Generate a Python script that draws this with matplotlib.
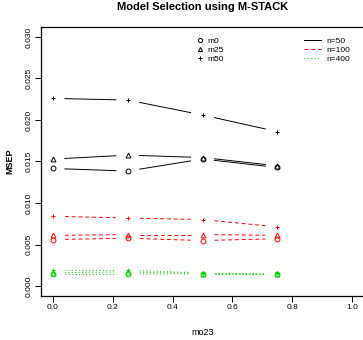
import numpy as np
import matplotlib

matplotlib.use('Agg')
import matplotlib.pyplot as plt
from matplotlib.lines import Line2D

plt.rcParams['font.family'] = ['Liberation Sans', 'DejaVu Sans']

# --- 데이터 ---
mo23 = [0.0, 0.25, 0.5, 0.75]
models = ['m0', 'm25', 'm50']
sizes = ['n=50', 'n=100', 'n=400']

msep_n50 = {
    'm0': [0.01416, 0.01385, 0.0153, 0.01428],
    'm25': [0.01529, 0.01577, 0.01548, 0.01448],
    'm50': [0.0226, 0.0224, 0.0206, 0.0186],
}
msep_n100 = {
    'm0': [0.0056, 0.00576, 0.00548, 0.0057],
    'm25': [0.0061, 0.0062, 0.0062, 0.0061],
    'm50': [0.0084, 0.0082, 0.0080, 0.00713],
}
msep_n400 = {
    'm0': [0.0014, 0.0014, 0.0015, 0.0014],
    'm25': [0.0016, 0.0017, 0.0015, 0.0015],
    'm50': [0.0019, 0.0019, 0.0016, 0.0016],
}

COLORS = ['black', '#FF0000', '#00CD00']
LSTYLES = ['-', (0, (4, 3)), (0, (1, 2.5))]
MARKERS = {'m0': 'o', 'm25': '^', 'm50': '+'}
LW = 0.7


def plot_b(ax, x, y, color, ls, marker, gap=0.04):
    # R type="b": 점 주변을 비우고 선분만 그림
    x = np.asarray(x, float)
    y = np.asarray(y, float)
    for i in range(len(x) - 1):
        x0, x1 = x[i], x[i + 1]
        y0, y1 = y[i], y[i + 1]
        t0 = gap / (x1 - x0)
        t1 = 1 - t0
        ax.plot([x0 + (x1 - x0) * t0, x0 + (x1 - x0) * t1],
                [y0 + (y1 - y0) * t0, y0 + (y1 - y0) * t1],
                color=color, ls=ls, lw=LW)
    ax.plot(x, y, ls='none', marker=marker, ms=3.5, mfc='none', mec=color, mew=0.7)


fig = plt.figure(figsize=(3.63, 3.40), dpi=100)
ax = fig.add_axes([0.113, 0.1294, 0.89, 0.7912])

for data, c, ls in zip([msep_n50, msep_n100, msep_n400], COLORS, LSTYLES):
    for m in models:
        plot_b(ax, mo23, data[m], c, ls, MARKERS[m])

ax.set_xlim(-0.04, 1.04)
ax.set_ylim(-0.0012, 0.0312)
ax.set_xticks([0.0, 0.2, 0.4, 0.6, 0.8, 1.0])
ax.set_xticklabels(['0.0', '0.2', '0.4', '0.6', '0.8', '1.0'])
ax.set_yticks([0.0, 0.005, 0.010, 0.015, 0.020, 0.025, 0.030])
ax.set_yticklabels(['0.000', '0.005', '0.010', '0.015', '0.020', '0.025', '0.030'],
                   rotation=90, va='center')
ax.tick_params(labelsize=6, length=4, width=0.7, pad=2)
for s in ax.spines.values():
    s.set_linewidth(0.9)

ax.set_xlabel('mo23', fontsize=6.5, labelpad=12)
ax.set_ylabel('MSEP', fontsize=6.5, fontweight='bold', labelpad=8)
ax.set_title('Model Selection using M-STACK', fontsize=8, fontweight='bold', pad=12)

h1 = [Line2D([], [], ls='none', marker=MARKERS[m], ms=3, mfc='none', mec='black', mew=0.7)
      for m in models]
leg1 = ax.legend(h1, models, loc='upper left', bbox_to_anchor=(0.47, 0.975), frameon=False,
                 fontsize=6, handlelength=1.0, handletextpad=0.3, labelspacing=0.15,
                 borderaxespad=0)
ax.add_artist(leg1)
h2 = [Line2D([], [], color=c, ls=ls, lw=LW) for c, ls in zip(COLORS, LSTYLES)]
ax.legend(h2, sizes, loc='upper left', bbox_to_anchor=(0.805, 0.975), frameon=False,
          fontsize=6, handlelength=2.0, handletextpad=0.6, labelspacing=0.15,
          borderaxespad=0)

fig.savefig('out.png', dpi=100)
